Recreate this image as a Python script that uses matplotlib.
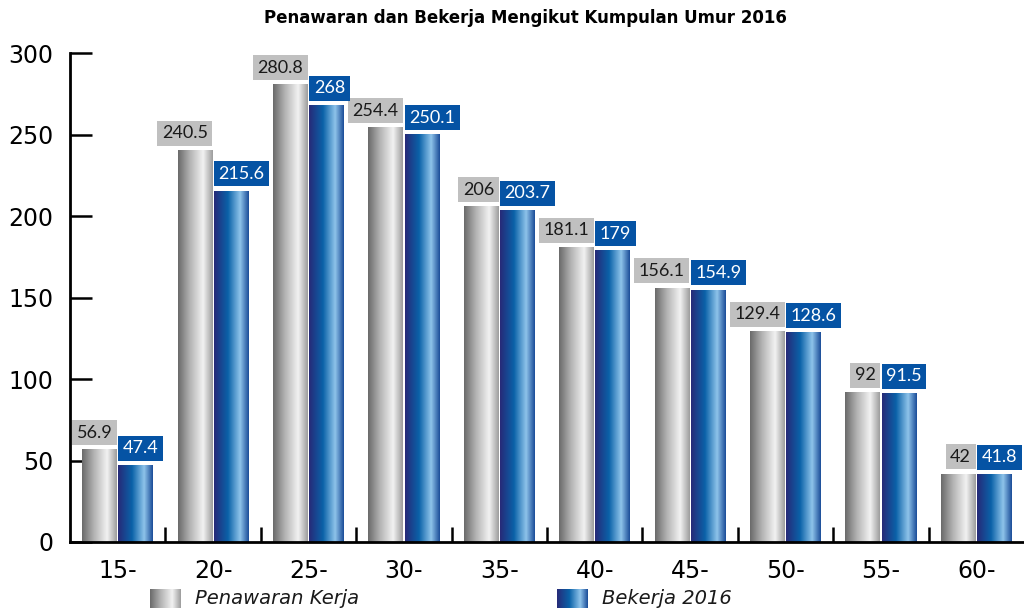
import numpy as np
from matplotlib import pyplot as plt
from matplotlib.colors import LinearSegmentedColormap

groups = ["15-", "20-", "25-", "30-", "35-", "40-", "45-", "50-", "55-", "60-"]
penawaran = [56.9, 240.5, 280.8, 254.4, 206, 181.1, 156.1, 129.4, 92, 42]
bekerja = [47.4, 215.6, 268, 250.1, 203.7, 179, 154.9, 128.6, 91.5, 41.8]
yticks = [0, 50, 100, 150, 200, 250, 300]

gray_cmap = LinearSegmentedColormap.from_list(
    "gray_bar", [(0, "#6a6a6a"), (0.35, "#b4b4b4"), (0.72, "#f2f2f2"), (1, "#9c9c9c")])
blue_cmap = LinearSegmentedColormap.from_list(
    "blue_bar", [(0, "#272a78"), (0.4, "#0a62a8"), (0.75, "#8ec3ea"), (1, "#1a4c98")])
gradient = np.linspace(0, 1, 256).reshape(1, -1)


def gradient_bars(ax, bars, cmap):
    for patch in bars:
        x, y = patch.get_x(), patch.get_y()
        w, h = patch.get_width(), patch.get_height()
        patch.set_facecolor("none")
        patch.set_edgecolor("none")
        im = ax.imshow(gradient, cmap=cmap, aspect="auto",
                       extent=[x, x + w, y, y + h], zorder=2)
        im.set_clip_path(patch)


fig = plt.figure(figsize=(10.24, 6.15), dpi=100)
ax = fig.add_axes([0.0684, 0.1187, 0.9316, 0.7951])

x = np.arange(len(groups))
width = 0.365
off = 0.19
b1 = ax.bar(x - off, penawaran, width)
b2 = ax.bar(x + off, bekerja, width)
gradient_bars(ax, b1, gray_cmap)
gradient_bars(ax, b2, blue_cmap)

fs = 13
pad = 0.25
pad_pts = pad * fs
# gray labels sit flush with the bar's right edge, blue ones with the left edge
for patch, v in zip(b1, penawaran):
    ax.annotate(f"{v:g}", (patch.get_x() + patch.get_width(), v),
                xytext=(-pad_pts, pad_pts + 3), textcoords="offset points",
                ha="right", va="bottom", fontsize=fs, family="Lato", color="#1a1a1a",
                annotation_clip=False, zorder=4,
                bbox=dict(boxstyle=f"square,pad={pad}", fc="#c0c0c0", ec="none"))
for patch, v in zip(b2, bekerja):
    ax.annotate(f"{v:g}", (patch.get_x(), v),
                xytext=(pad_pts, pad_pts + 3), textcoords="offset points",
                ha="left", va="bottom", fontsize=fs, family="Lato", color="white",
                annotation_clip=False, zorder=4,
                bbox=dict(boxstyle=f"square,pad={pad}", fc="#0553a4", ec="none"))

ax.set_xlim(-0.5, 9.5)
ax.set_ylim(0, 300)
ax.set_yticks(yticks)
ax.set_xticks(x)
ax.set_xticklabels(groups)
ax.set_xticks(np.arange(0.5, 9.5, 1), minor=True)
ax.tick_params(axis="y", direction="in", length=16, width=1.8, labelsize=17, pad=12)
ax.tick_params(axis="x", which="major", length=0, labelsize=17, pad=12)
ax.tick_params(axis="x", which="minor", direction="in", length=11, width=1.8)
for s in ["top", "right"]:
    ax.spines[s].set_visible(False)
for s in ["left", "bottom"]:
    ax.spines[s].set_linewidth(2)

fig.text(0.513, 0.97, "Penawaran dan Bekerja Mengikut Kumpulan Umur 2016",
         ha="center", va="center", fontsize=12, fontweight="bold")

# legend with gradient swatches
for left, cmap, label in [(150, gray_cmap, "Penawaran Kerja"), (557, blue_cmap, "Bekerja 2016")]:
    sw = fig.add_axes([left / 1024, 1 - 608 / 615, 31 / 1024, 19 / 615])
    sw.imshow(gradient, cmap=cmap, aspect="auto")
    sw.axis("off")
    fig.text((left + 45) / 1024, 1 - 598 / 615, label, ha="left", va="center",
             fontsize=14, style="italic", color="#1a1a1a")

fig.savefig("out.png", dpi=100)
